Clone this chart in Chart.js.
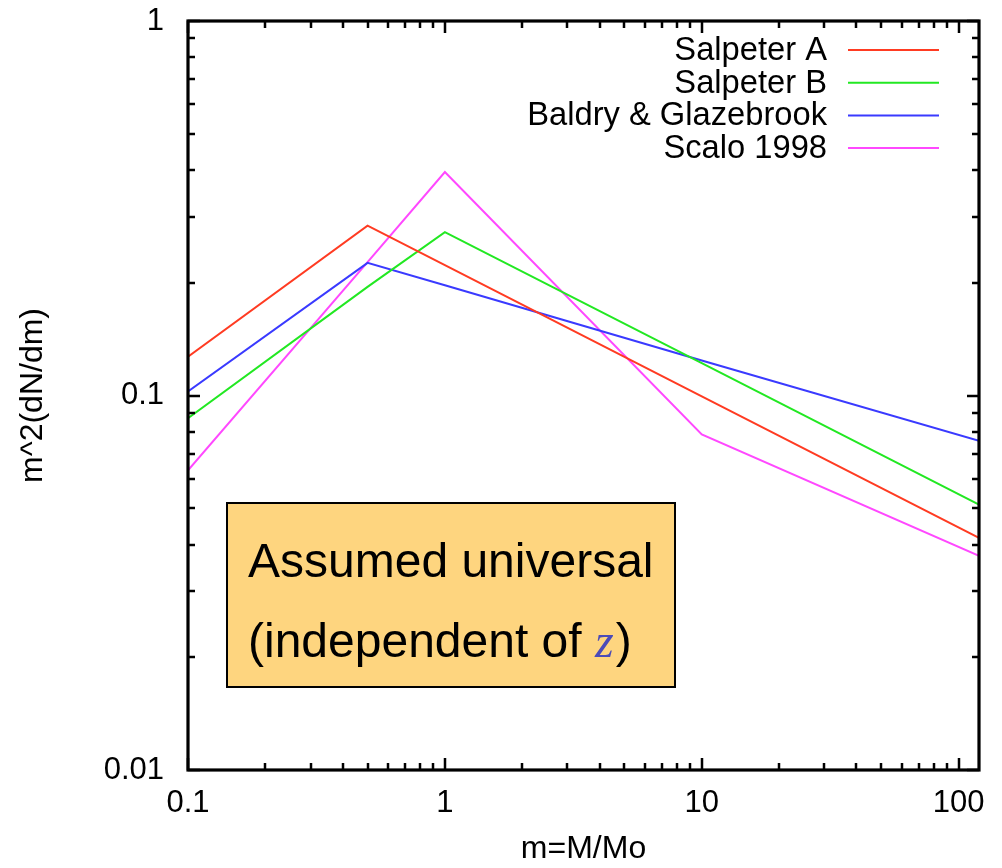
<!DOCTYPE html>
<html>
<head>
<meta charset="utf-8">
<title>IMF comparison</title>
<script src="https://cdn.jsdelivr.net/npm/chart.js@4/dist/chart.umd.min.js"></script>
<style>
  html, body { margin: 0; padding: 0; background: #fff; }
  #wrap { width: 1002px; height: 868px; }
</style>
</head>
<body>
<div id="wrap"><canvas id="chart" width="1002" height="868"></canvas></div>
<script>
// stellar mass (M/Mo) where the IMF slopes change
const massPoints = [0.1, 0.5, 1, 10, 120];

// m^2 dN/dm for each IMF at the mass points above
const salpeterA = [0.127, 0.284, 0.223, 0.0995, 0.0417];
const salpeterB = [0.087, 0.195, 0.273, 0.122, 0.0511];
const baldryGlazebrook = [0.1025, 0.226, 0.197, 0.124, 0.0757];
const scalo1998 = [0.0631, 0.227, 0.395, 0.0787, 0.0373];

const seriesNames = ['Salpeter A', 'Salpeter B', 'Baldry & Glazebrook', 'Scalo 1998'];
const seriesColors = ['#ff3b22', '#22e822', '#3a3aff', '#ff48ff'];

// tick labels
const xTickValues = [0.1, 1, 10, 100];
const yTickValues = [0.01, 0.1, 1];

const FONT = '"Liberation Sans", Arial, Helvetica, sans-serif';

const toPoints = vals => vals.map((v, i) => ({ x: massPoints[i], y: v }));

const datasets = [salpeterA, salpeterB, baldryGlazebrook, scalo1998].map((vals, i) => ({
    label: seriesNames[i],
    data: toPoints(vals),
    borderColor: seriesColors[i],
    backgroundColor: seriesColors[i],
    borderWidth: 2,
    pointRadius: 0,
    tension: 0,
    fill: false
}));

// minor tick values (2..9 x decade) inside [min, max]
function minorTicks(min, max) {
    const out = [];
    for (let d = Math.floor(Math.log10(min)); d <= Math.ceil(Math.log10(max)); d++) {
        for (let k = 2; k <= 9; k++) {
            const v = k * Math.pow(10, d);
            if (v > min && v < max) out.push(v);
        }
    }
    return out;
}

// gnuplot-style frame with inward ticks on all four sides
const framePlugin = {
    id: 'frame',
    afterDatasetsDraw(chart) {
        const { ctx, chartArea: a, scales } = chart;
        const xs = scales.x, ys = scales.y;
        ctx.save();
        ctx.strokeStyle = '#000';
        ctx.lineWidth = 2.5;
        ctx.beginPath();
        const tickX = (v, len) => {
            const px = Math.round(xs.getPixelForValue(v));
            ctx.moveTo(px, a.bottom); ctx.lineTo(px, a.bottom - len);
            ctx.moveTo(px, a.top); ctx.lineTo(px, a.top + len);
        };
        const tickY = (v, len) => {
            const py = Math.round(ys.getPixelForValue(v));
            ctx.moveTo(a.left, py); ctx.lineTo(a.left + len, py);
            ctx.moveTo(a.right, py); ctx.lineTo(a.right - len, py);
        };
        xTickValues.forEach(v => tickX(v, 12));
        minorTicks(xs.min, xs.max).forEach(v => tickX(v, 7));
        yTickValues.forEach(v => tickY(v, 12));
        minorTicks(ys.min, ys.max).forEach(v => tickY(v, 7));
        ctx.stroke();

        ctx.lineWidth = 3.2;
        ctx.strokeRect(a.left, a.top, a.right - a.left, a.bottom - a.top);
        ctx.restore();
    }
};

// legend in the top-right corner: right-aligned names followed by a line sample
const keyPlugin = {
    id: 'key',
    afterDraw(chart) {
        const { ctx } = chart;
        const textRight = 827, lineStart = 848, lineEnd = 939;
        const rowTop = 50, rowStep = 32.7;
        ctx.save();
        ctx.font = '32.7px ' + FONT;
        ctx.textAlign = 'right';
        ctx.textBaseline = 'middle';
        chart.data.datasets.forEach((ds, i) => {
            const y = rowTop + i * rowStep;
            ctx.fillStyle = '#000';
            ctx.fillText(ds.label, textRight, y + 1);
            ctx.strokeStyle = ds.borderColor;
            ctx.lineWidth = 2;
            ctx.beginPath();
            ctx.moveTo(lineStart, y);
            ctx.lineTo(lineEnd, y);
            ctx.stroke();
        });
        ctx.restore();
    }
};

// orange note box
const noteLines = ['Assumed universal', '(independent of '];
const notePlugin = {
    id: 'note',
    afterDraw(chart) {
        const { ctx } = chart;
        const box = { x: 227, y: 503, w: 448, h: 184 };
        ctx.save();
        ctx.fillStyle = '#fed57f';
        ctx.fillRect(box.x, box.y, box.w, box.h);
        ctx.strokeStyle = '#000';
        ctx.lineWidth = 2;
        ctx.strokeRect(box.x, box.y, box.w, box.h);

        const left = 248;
        ctx.textBaseline = 'alphabetic';
        ctx.textAlign = 'left';
        ctx.fillStyle = '#000';
        ctx.font = '48px ' + FONT;
        ctx.fillText(noteLines[0], left, 577);
        ctx.fillText(noteLines[1], left, 657);
        let x = left + ctx.measureText(noteLines[1]).width;
        ctx.font = 'italic 48px "Liberation Serif", "Times New Roman", serif';
        ctx.fillStyle = '#4b4bb8';
        ctx.fillText('z', x, 657);
        x += ctx.measureText('z').width + 2;
        ctx.font = '48px ' + FONT;
        ctx.fillStyle = '#000';
        ctx.fillText(')', x, 657);
        ctx.restore();
    }
};

const tickFont = { family: FONT, size: 31 };
const titleFont = { family: FONT, size: 32 };

new Chart(document.getElementById('chart'), {
    type: 'line',
    data: { datasets },
    options: {
        responsive: false,
        animation: false,
        layout: { padding: { top: 21, right: 23, left: 0, bottom: 0 } },
        plugins: {
            legend: { display: false },
            tooltip: { enabled: false }
        },
        scales: {
            x: {
                type: 'logarithmic',
                min: 0.1,
                max: 120,
                grid: { display: false, drawTicks: false },
                border: { display: false },
                afterBuildTicks: s => { s.ticks = xTickValues.map(v => ({ value: v })); },
                afterFit: s => {
                    s.height = 98;
                    s.paddingLeft = 0;
                    s.paddingRight = 0;
                },
                ticks: {
                    font: tickFont, color: '#000', padding: 15,
                    maxRotation: 0, autoSkip: false,
                    callback: v => String(v)
                },
                title: {
                    display: true, text: 'm=M/Mo', font: titleFont, color: '#000',
                    padding: { top: 0, bottom: 0 }
                }
            },
            y: {
                type: 'logarithmic',
                min: 0.01,
                max: 1,
                grid: { display: false, drawTicks: false },
                border: { display: false },
                afterBuildTicks: s => { s.ticks = yTickValues.map(v => ({ value: v })); },
                afterFit: s => {
                    s.width = 188;
                    s.paddingTop = 0;
                    s.paddingBottom = 0;
                },
                ticks: {
                    font: tickFont, color: '#000', padding: 24,
                    autoSkip: false,
                    callback: v => String(v)
                },
                title: {
                    display: true, text: 'm^2(dN/dm)', font: titleFont, color: '#000',
                    padding: { top: 14, bottom: 0 }
                }
            }
        }
    },
    plugins: [framePlugin, keyPlugin, notePlugin]
});
</script>
</body>
</html>
